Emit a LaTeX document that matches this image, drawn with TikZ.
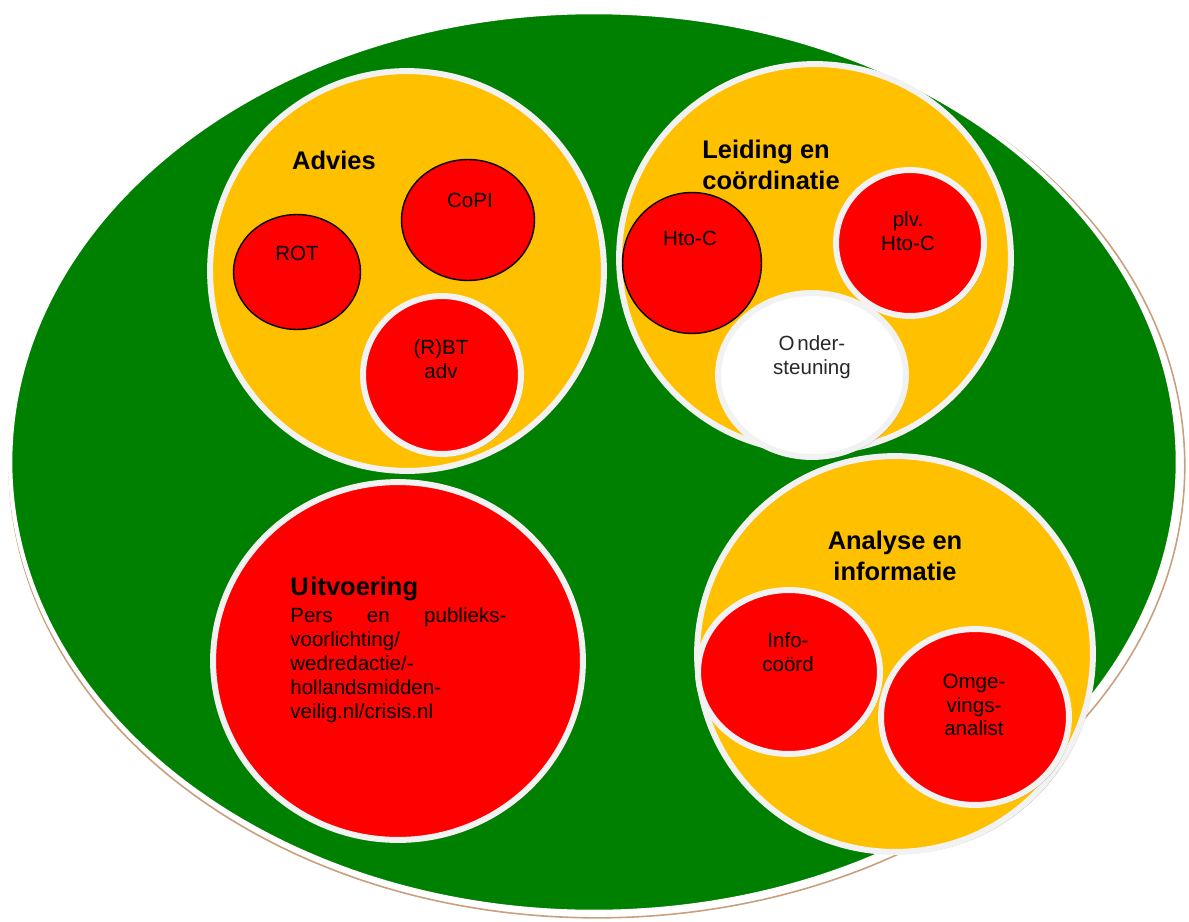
\documentclass[tikz,border=0pt]{standalone}
\usepackage{fontspec}
\setmainfont{Liberation Sans}
\usetikzlibrary{shapes.geometric,shadows}
\definecolor{grn}{RGB}{0,128,0}
\definecolor{gold}{RGB}{255,192,0}
\definecolor{rd}{RGB}{255,0,0}
\definecolor{rim}{RGB}{242,242,242}
\definecolor{shd}{RGB}{90,60,30}
\definecolor{tan}{RGB}{200,160,125}
\definecolor{graytext}{RGB}{40,40,40}
\tikzset{
  blob/.style={ellipse, inner sep=0, outer sep=0},
  sz/.style 2 args={minimum width=#1*0.04cm, minimum height=#2*0.04cm},
  shaderim/.style={drop shadow={shadow xshift=1.3pt,shadow yshift=-1.3pt,fill=shd,opacity=0.45}},
  groupc/.style={blob, fill=gold, draw=rim, line width=3.4pt, shaderim},
  ringred/.style={blob, fill=rd, draw=rim, line width=3.4pt, shaderim},
  ringwhite/.style={blob, fill=white, draw=rim, line width=3.4pt, shaderim},
  linered/.style={blob, fill=rd, draw=black, line width=0.8pt},
  lbl/.style={inner sep=0, align=center, font=\fontsize{11.7}{13.3}\selectfont},
  head/.style={inner sep=0, align=center, font=\bfseries\fontsize{14.5}{17.6}\selectfont}
}
\begin{document}
\begin{tikzpicture}[x=0.02cm,y=-0.02cm]
\useasboundingbox[fill=white] (0,0) rectangle (1189,922);

% outer green ellipse with offset tan outline
\node[blob, sz={588}{452}, draw=tan, line width=0.9pt] (outerline) at (597,466) {};
\node[blob, sz={584}{450}, fill=grn, draw=white, line width=2.4pt] (outer) at (594,462) {};

% group circles
\node[groupc, sz={197}{200}] (advies) at (407,271) {};
\node[groupc, sz={196}{194}] (leiding) at (815,258) {};
\node[ringred, sz={185}{179}] (uitv) at (398,661) {};
\node[groupc, sz={198}{198}] (analyse) at (895,654) {};

% Advies members
\node[linered, sz={63.5}{57.5}] (rot) at (297,272) {};
\node[linered, sz={66.5}{60.5}] (copi) at (468,220) {};
\node[ringred, sz={79}{79}] (rbt) at (442,375) {};

% Leiding members
\node[linered, sz={69.5}{70.5}] (htoc) at (692,263) {};
\node[ringred, sz={74}{73}] (plv) at (910,243) {};
\node[ringwhite, sz={94}{82}] (onder) at (812,375) {};

% Analyse members
\node[ringred, sz={91}{82}] (info) at (789,672) {};
\node[ringred, sz={94}{88}] (omge) at (975,717) {};

% labels
\node[head] (advies-t) at (334,160) {Advies};
\node[head, align=left, anchor=west] (leiding-t) at (702,165) {Leiding en\\coördinatie};
\node[head] (analyse-t) at (895,556) {Analyse en\\informatie};

\node[lbl] (rot-t) at (297,253) {ROT};
\node[lbl] (copi-t) at (470,200) {CoPI};
\node[lbl] (rbt-t) at (441,359) {(R)BT\\adv};
\node[lbl] (htoc-t) at (690,238) {Hto-C};
\node[lbl] (plv-t) at (908,231) {plv.\\Hto-C};
\node[lbl, text=graytext] (onder-t) at (812,357) {O\hspace{1.5pt}nder-\\steuning};
\node[lbl] (info-t) at (788,652) {Info-\\coörd};
\node[lbl] (omge-t) at (974,705) {Omge-\\vings-\\analist};

\node[head, anchor=base west] (uitv-t) at (290,595) {U\hspace{1pt}itvoering};
\node[lbl, align=left, anchor=north west, font=\fontsize{11.7}{13.7}\selectfont] (uitv-b) at (290,607)
  {\hbox to 123pt{Pers\hfill en\hfill publieks-}\\voorlichting/\\wedredactie/-\\hollandsmidden-\\veilig.nl/crisis.nl};
\end{tikzpicture}
\end{document}
